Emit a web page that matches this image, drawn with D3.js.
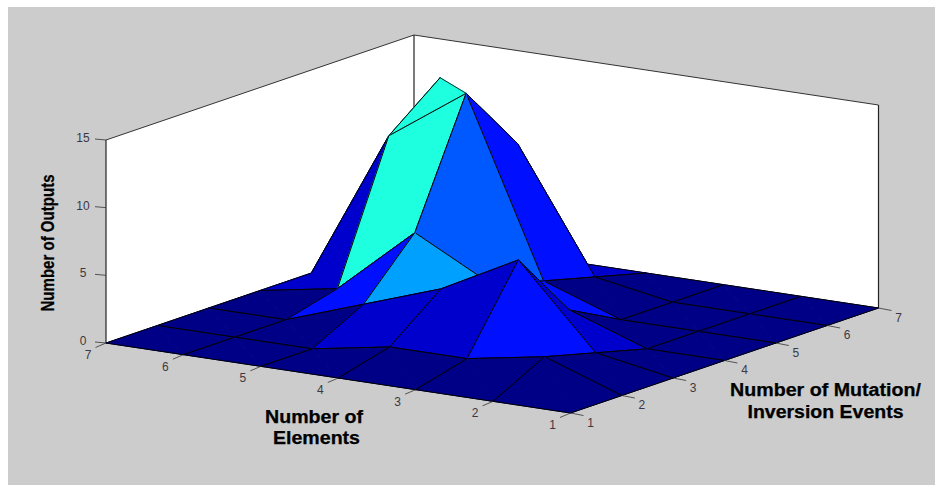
<!DOCTYPE html>
<html>
<head>
<meta charset="utf-8">
<script src="https://cdn.jsdelivr.net/npm/d3@7"></script>
<style>
    html, body { margin: 0; padding: 0; background: #fff; }
    svg { display: block; }
    text { font-family: "Liberation Sans", Arial, sans-serif; }
    .tick-label { font-size: 12px; fill: #3c3842; text-anchor: middle; }
    .axis-title { font-weight: bold; fill: #000; stroke: #000; stroke-width: 0.25; text-anchor: middle; }
</style>
</head>
<body>
<div id="chart"></div>
<script>
// axis ticks
const elementTicks = [1, 2, 3, 4, 5, 6, 7];
const mutationTicks = [1, 2, 3, 4, 5, 6, 7];
const outputTicks = [0, 5, 10, 15];

// number of outputs, one list per number of elements (mutation events 1..7)
const elements1 = [0, 0, 0, 0, 0, 0, 0];
const elements2 = [0, 2, 1, 0, 0, 0, 0];
const elements3 = [0, 1, 7, 2, 0, 0, 0];
const elements4 = [0, 1, 4, 3, 2, 1, 0];
const elements5 = [0, 0, 2, 6, 15, 10, 0];
const elements6 = [0, 0, 0, 1, 11, 14, 0];
const elements7 = [0, 0, 0, 0, 0, 0, 0];
const outputs = [elements1, elements2, elements3, elements4, elements5, elements6, elements7];

// colormap stops, the top of the map is clipped like the original figure
const colorValues = [0, 1, 2, 3, 4, 6];
const colorStops = ["#000086", "#0000cc", "#0010ff", "#0058ff", "#00a0ff", "#1effe0"];

const width = 935, height = 485;
const origin = {x: 570.5, y: 413};  // screen position of (1, 1, 0)

// oblique projection: every data axis gets its own screen offset scales
const elemX = d3.scaleLinear().domain([1, 7]).range([0, -464.5]);
const elemY = d3.scaleLinear().domain([1, 7]).range([0, -70]);
const mutX = d3.scaleLinear().domain([1, 7]).range([0, 308]);
const mutY = d3.scaleLinear().domain([1, 7]).range([0, -105]);
const outY = d3.scaleLinear().domain([0, 15]).range([0, -203]);
const colorScale = d3.scaleLinear().domain(colorValues).range(colorStops).clamp(true);

function project(e, m, z) {
    return [origin.x + elemX(e) + mutX(m), origin.y + elemY(e) + mutY(m) + outY(z)];
}

function vertex(e, m) {
    return project(e, m, outputs[e - 1][m - 1]);
}

const line = d3.line();

const svg = d3.select("#chart").append("svg")
    .attr("width", width)
    .attr("height", height);

// figure background
svg.append("rect")
    .attr("x", 8)
    .attr("y", 7)
    .attr("width", width - 8)
    .attr("height", height - 7)
    .attr("fill", "#cccccc");

// back walls of the axes box
const [eMin, eMax] = elemX.domain();
const [mMin, mMax] = mutX.domain();
const [zMin, zMax] = outY.domain();

svg.append("path")
    .attr("d", line([
        project(eMax, mMin, zMin), project(eMax, mMin, zMax), project(eMax, mMax, zMax),
        project(eMin, mMax, zMax), project(eMin, mMax, zMin), project(eMax, mMax, zMin)
    ]) + "Z")
    .attr("fill", "#fff");

const wallEdges = [
    [[eMax, mMin, zMax], [eMax, mMax, zMax]],
    [[eMax, mMax, zMax], [eMin, mMax, zMax]]
];
svg.selectAll(".wall-top").data(wallEdges).enter().append("path")
    .attr("class", "wall-top")
    .attr("d", d => line(d.map(p => project(...p))))
    .attr("fill", "none")
    .attr("stroke", "#333")
    .attr("stroke-width", 1);

const wallPosts = [
    [[eMax, mMin, zMin], [eMax, mMin, zMax]],
    [[eMax, mMax, zMin], [eMax, mMax, zMax]],
    [[eMin, mMax, zMin], [eMin, mMax, zMax]]
];
svg.selectAll(".wall-post").data(wallPosts).enter().append("path")
    .attr("class", "wall-post")
    .attr("d", d => line(d.map(p => project(...p))))
    .attr("fill", "none")
    .attr("stroke", "#222")
    .attr("stroke-width", 1.2);

// surface cells, painted from the far corner to the near corner
const cells = [];
for (let e = 6; e >= 1; e--) {
    for (let m = 6; m >= 1; m--) {
        cells.push({e: e, m: m, z: outputs[e - 1][m - 1]});
    }
}

const cellGroups = svg.selectAll(".cell").data(cells).enter().append("g")
    .attr("class", "cell");

// each cell is folded along its diagonal, the far triangle goes first so
// a folded cell like the one on the peak hides its own back edge
function drawTriangle(group, corner) {
    group.append("path")
        .attr("d", d => line([vertex(d.e, d.m), corner(d), vertex(d.e + 1, d.m + 1)]) + "Z")
        .attr("fill", d => colorScale(d.z))
        .attr("stroke", d => colorScale(d.z))
        .attr("stroke-width", 1);
    group.append("path")
        .attr("d", d => line([vertex(d.e, d.m), corner(d), vertex(d.e + 1, d.m + 1)]))
        .attr("fill", "none")
        .attr("stroke", "#000")
        .attr("stroke-width", 1);
}
drawTriangle(cellGroups, d => vertex(d.e, d.m + 1));
drawTriangle(cellGroups, d => vertex(d.e + 1, d.m));

// the fold itself only shows as an edge where the near corner rises over the back edge
function isFolded(d) {
    const a = vertex(d.e + 1, d.m + 1), b = vertex(d.e, d.m + 1), c = vertex(d.e, d.m);
    return (b[0] - a[0]) * (c[1] - a[1]) - (b[1] - a[1]) * (c[0] - a[0]) < 0;
}
cellGroups.filter(isFolded).append("path")
    .attr("d", d => line([vertex(d.e, d.m), vertex(d.e + 1, d.m + 1)]))
    .attr("fill", "none")
    .attr("stroke", "#000")
    .attr("stroke-width", 0.8);

// outputs axis
const outTicks = svg.selectAll(".out-tick").data(outputTicks).enter().append("g")
    .attr("class", "out-tick");
outTicks.append("path")
    .attr("d", d => {
        const p = project(eMax, mMin, d);
        return line([p, [p[0] - 11, p[1] - 1]]);
    })
    .attr("stroke", "#333")
    .attr("stroke-width", 0.8);
outTicks.append("text")
    .attr("class", "tick-label")
    .attr("x", d => project(eMax, mMin, d)[0] - 23)
    .attr("y", d => project(eMax, mMin, d)[1] + 2)
    .text(d => d);

// elements axis
const elemTicks = svg.selectAll(".elem-tick").data(elementTicks).enter().append("g")
    .attr("class", "elem-tick");
elemTicks.append("path")
    .attr("d", d => {
        const p = project(d, mMin, 0);
        return line([p, [p[0] - 10.5, p[1] + 4.5]]);
    })
    .attr("stroke", "#333")
    .attr("stroke-width", 0.8);
elemTicks.append("text")
    .attr("class", "tick-label")
    .attr("x", d => project(d, mMin, 0)[0] - 18)
    .attr("y", d => project(d, mMin, 0)[1] + 16)
    .text(d => d);

// mutation axis
const mutTicks = svg.selectAll(".mut-tick").data(mutationTicks).enter().append("g")
    .attr("class", "mut-tick");
mutTicks.append("path")
    .attr("d", d => {
        const p = project(eMin, d, 0);
        return line([p, [p[0] + 13, p[1] + 2.5]]);
    })
    .attr("stroke", "#333")
    .attr("stroke-width", 0.8);
mutTicks.append("text")
    .attr("class", "tick-label")
    .attr("x", d => project(eMin, d, 0)[0] + 20)
    .attr("y", d => project(eMin, d, 0)[1] + 13.5)
    .text(d => d);

// axis titles
svg.append("text")
    .attr("class", "axis-title")
    .attr("transform", "translate(54, 243) rotate(-90)")
    .attr("font-size", 18.5)
    .attr("textLength", 137)
    .attr("lengthAdjust", "spacingAndGlyphs")
    .text("Number of Outputs");

const titleLines = [
    {text: "Number of", x: 314, y: 422.5, len: 98},
    {text: "Elements", x: 316.5, y: 444, len: 87},
    {text: "Number of Mutation/", x: 825.5, y: 395.5, len: 191},
    {text: "Inversion Events", x: 825.5, y: 418, len: 156}
];
svg.selectAll(".title-line").data(titleLines).enter().append("text")
    .attr("class", "axis-title title-line")
    .attr("x", d => d.x)
    .attr("y", d => d.y)
    .attr("font-size", 17.5)
    .attr("textLength", d => d.len)
    .attr("lengthAdjust", "spacingAndGlyphs")
    .text(d => d.text);
</script>
</body>
</html>
